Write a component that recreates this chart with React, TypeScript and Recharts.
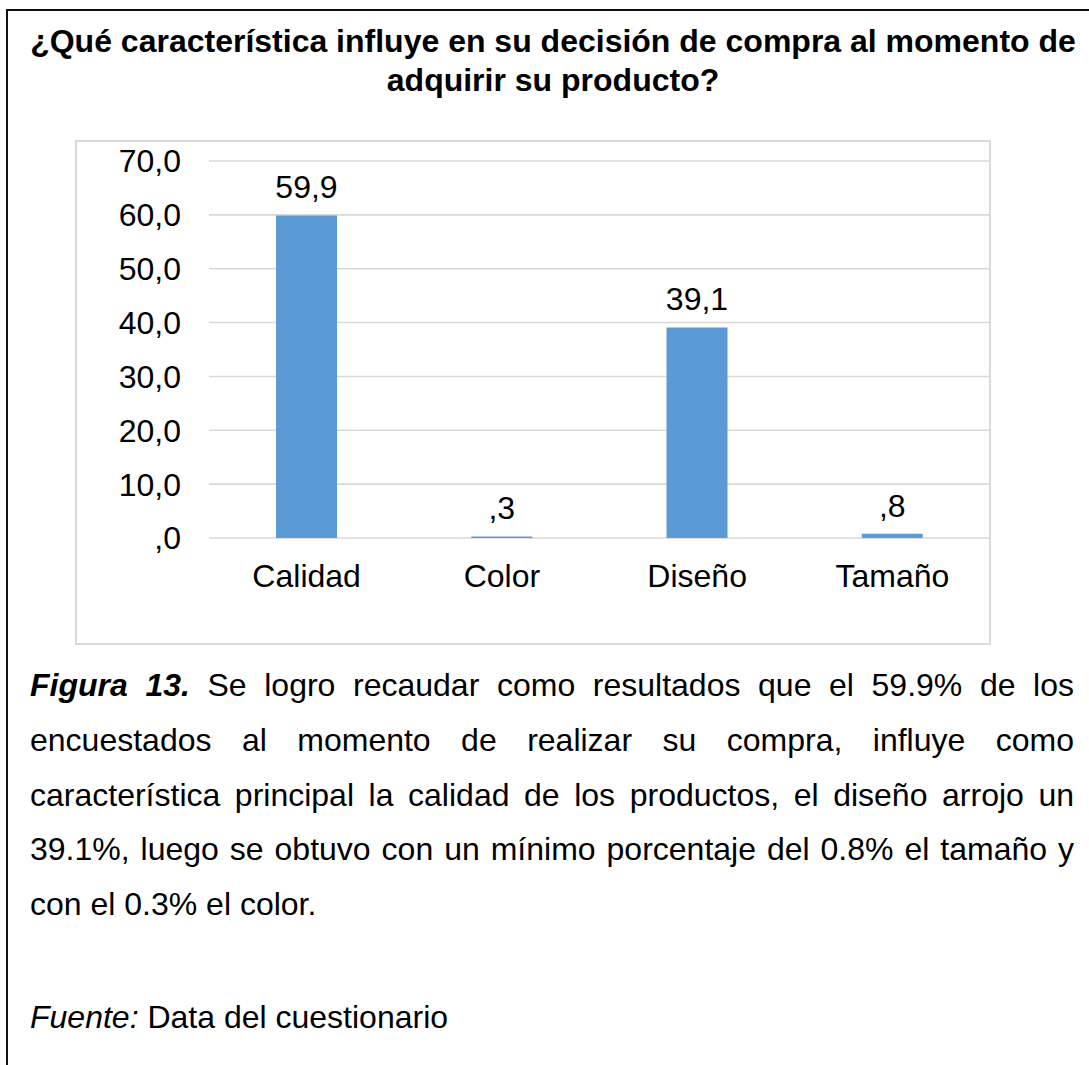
import React from 'react';
import { BarChart, Bar, XAxis, YAxis, CartesianGrid, LabelList } from 'recharts';

const categories = ['Calidad', 'Color', 'Diseño', 'Tamaño'];
const percentages = [59.9, 0.3, 39.1, 0.8];
const yTicks = [0, 10, 20, 30, 40, 50, 60, 70];

const titleLines = [
  '¿Qué característica influye en su decisión de compra al momento de',
  'adquirir su producto?',
];
const captionLead = 'Figura 13.';
const captionLines = [
  ' Se logro recaudar como resultados que el 59.9% de los',
  'encuestados al momento de realizar su compra, influye como',
  'característica principal la calidad de los productos, el diseño arrojo un',
  '39.1%, luego se obtuvo con un mínimo porcentaje del 0.8% el tamaño y',
  'con el 0.3% el color.',
];
const sourceLabel = 'Fuente:';
const sourceText = ' Data del cuestionario';

const data = categories.map((c, i) => ({ category: c, value: percentages[i] }));

const fmt = (v: any) => {
  const s = Number(v).toFixed(1).replace('.', ',');
  return s.startsWith('0,') ? s.slice(1) : s;
};

const FONT = '"Liberation Sans", Arial, sans-serif';
const FS = 32;
const CAP_TOP = 658;
const CAP_LH = 54.8;

export default function App() {
  return (
    <div
      style={{
        position: 'absolute',
        left: 0,
        top: 0,
        width: 1089,
        height: 1065,
        background: '#fff',
        fontFamily: FONT,
        color: '#000',
        overflow: 'hidden',
      }}
    >
      {/* outer frame */}
      <div style={{ position: 'absolute', left: 6, top: 9, width: 1083, height: 2, background: '#111' }} />
      <div style={{ position: 'absolute', left: 6, top: 9, width: 2, height: 1056, background: '#111' }} />

      {/* title */}
      <div
        style={{
          position: 'absolute',
          left: 0,
          top: 22,
          width: 1106,
          textAlign: 'center',
          fontWeight: 'bold',
          fontSize: FS,
          lineHeight: '39px',
        }}
      >
        {titleLines.map((t, i) => (
          <div key={i} style={{ whiteSpace: 'nowrap' }}>{t}</div>
        ))}
      </div>

      {/* chart box */}
      <div
        style={{
          position: 'absolute',
          left: 75,
          top: 140,
          width: 916,
          height: 505,
          boxSizing: 'border-box',
          border: '2px solid #d9d9d9',
        }}
      />
      <div style={{ position: 'absolute', left: 75, top: 140 }}>
        <BarChart
          width={916}
          height={505}
          data={data}
          margin={{ top: 21, right: 1, bottom: 47, left: 0 }}
        >
          <CartesianGrid vertical={false} stroke="#d9d9d9" strokeWidth={1.6} />
          <XAxis
            dataKey="category"
            height={60}
            axisLine={false}
            tickLine={false}
            tickSize={0}
            tickMargin={26}
            tick={{ fill: '#000', fontSize: FS, fontFamily: FONT }}
          />
          <YAxis
            type="number"
            domain={[0, 70]}
            ticks={yTicks}
            width={134}
            axisLine={false}
            tickLine={false}
            tickSize={0}
            tickMargin={28}
            tickFormatter={fmt}
            tick={{ fill: '#000', fontSize: FS, fontFamily: FONT }}
          />
          <Bar dataKey="value" fill="#5B9BD5" barSize={61} isAnimationActive={false}>
            <LabelList
              dataKey="value"
              position="top"
              offset={17}
              formatter={fmt}
              fill="#000"
              fontSize={FS}
              fontFamily={FONT}
            />
          </Bar>
        </BarChart>
      </div>

      {/* caption */}
      {captionLines.map((t, i) => {
        const last = i === captionLines.length - 1;
        return (
          <div
            key={i}
            style={{
              position: 'absolute',
              left: 30,
              top: CAP_TOP + i * CAP_LH,
              width: 1044,
              fontSize: FS,
              lineHeight: `${CAP_LH}px`,
              textAlign: last ? 'left' : 'justify',
              textAlignLast: last ? 'left' : 'justify',
              whiteSpace: 'normal',
            }}
          >
            {i === 0 && <b><i>{captionLead}</i></b>}
            {t}
          </div>
        );
      })}
      <div
        style={{
          position: 'absolute',
          left: 30,
          top: 990,
          fontSize: FS,
          lineHeight: `${CAP_LH}px`,
          whiteSpace: 'nowrap',
        }}
      >
        <i>{sourceLabel}</i>
        {sourceText}
      </div>
    </div>
  );
}
